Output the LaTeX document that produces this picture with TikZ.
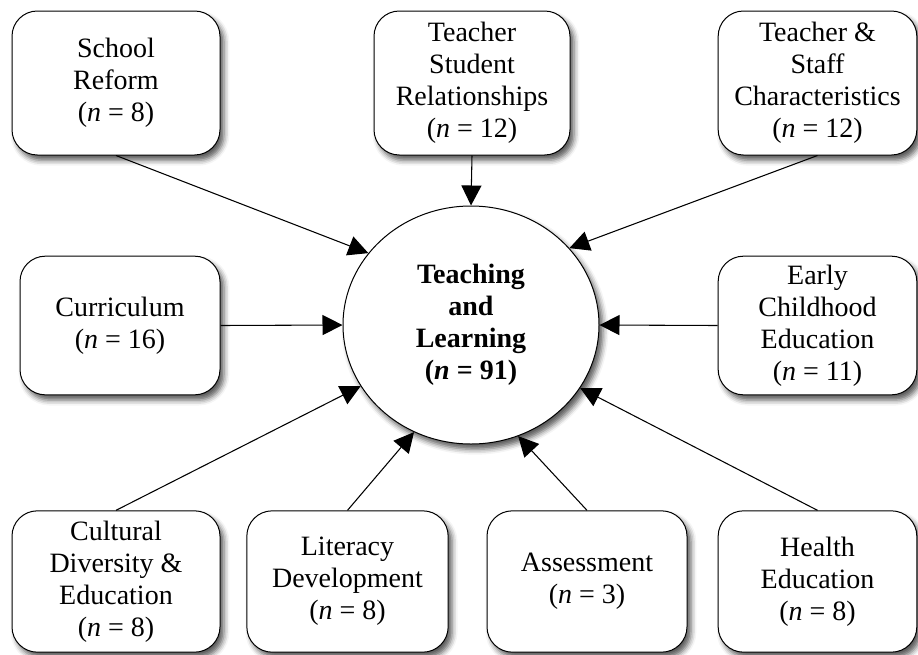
\documentclass[tikz,border=0pt]{standalone}
\usepackage{fontspec}
\setmainfont{Liberation Serif}
\usetikzlibrary{arrows.meta,shapes.geometric,shadows.blur}

\tikzset{every picture/.style={line width=0.75pt}}
\tikzset{
  softshadow/.style={blur shadow={shadow xshift=3pt, shadow yshift=-4pt, shadow blur radius=4pt, shadow opacity=65}},
  topicbox/.style={draw, rounded corners=19pt, fill=white, align=center,
    inner sep=0pt, font=\fontsize{21}{24}\selectfont, softshadow},
  link/.style={-{Triangle[length=15pt,width=15pt]}, line width=0.8pt}
}

\begin{document}
\begin{tikzpicture}[x=0.75pt,y=0.75pt,yscale=-1,xscale=1]

\useasboundingbox (0,0) rectangle (918,654);

\node [draw, ellipse, fill=white, minimum width=192pt, minimum height=178.5pt, inner sep=0pt,
  align=center, font=\bfseries\fontsize{21}{24}\selectfont, softshadow]
  (tl) at (471,325) {Teaching\\and\\Learning\\(\textit{n} = 91)};

\node [topicbox, minimum width=156pt, minimum height=108pt] (reform) at (116,83) {School\\Reform\\(\textit{n} = 8)};
\node [topicbox, minimum width=147pt, minimum height=108pt] (tsr) at (472,83) {Teacher\\Student\\Relationships\\(\textit{n} = 12)};
\node [topicbox, minimum width=149pt, minimum height=108pt] (staff) at (817.5,83) {Teacher \&\\Staff\\Characteristics\\(\textit{n} = 12)};
\node [topicbox, minimum width=150pt, minimum height=104pt] (curr) at (120,325.5) {Curriculum\\(\textit{n} = 16)};
\node [topicbox, minimum width=149pt, minimum height=104pt] (early) at (817.5,325.5) {Early\\Childhood\\Education\\(\textit{n} = 11)};
\node [topicbox, minimum width=156pt, minimum height=106pt] (cult) at (116,581.5) {Cultural\\Diversity \&\\Education\\(\textit{n} = 8)};
\node [topicbox, minimum width=151pt, minimum height=106pt] (lit) at (347.5,581.5) {Literacy\\Development\\(\textit{n} = 8)};
\node [topicbox, minimum width=150pt, minimum height=106pt] (assess) at (587,581.5) {Assessment\\(\textit{n} = 3)};
\node [topicbox, minimum width=149pt, minimum height=106pt] (health) at (817.5,581.5) {Health\\Education\\(\textit{n} = 8)};

\draw [link] (reform.south) -- (tl.145);
\draw [link] (tsr.south) -- (tl.north);
\draw [link] (staff.south) -- (tl.38);
\draw [link] (curr.east) -- (tl.west);
\draw [link] (early.west) -- (tl.east);
\draw [link] (cult.north) -- (tl.209);
\draw [link] (lit.north) -- (tl.242);
\draw [link] (assess.north) -- (tl.293);
\draw [link] (health.north) -- (tl.330);

\end{tikzpicture}
\end{document}
